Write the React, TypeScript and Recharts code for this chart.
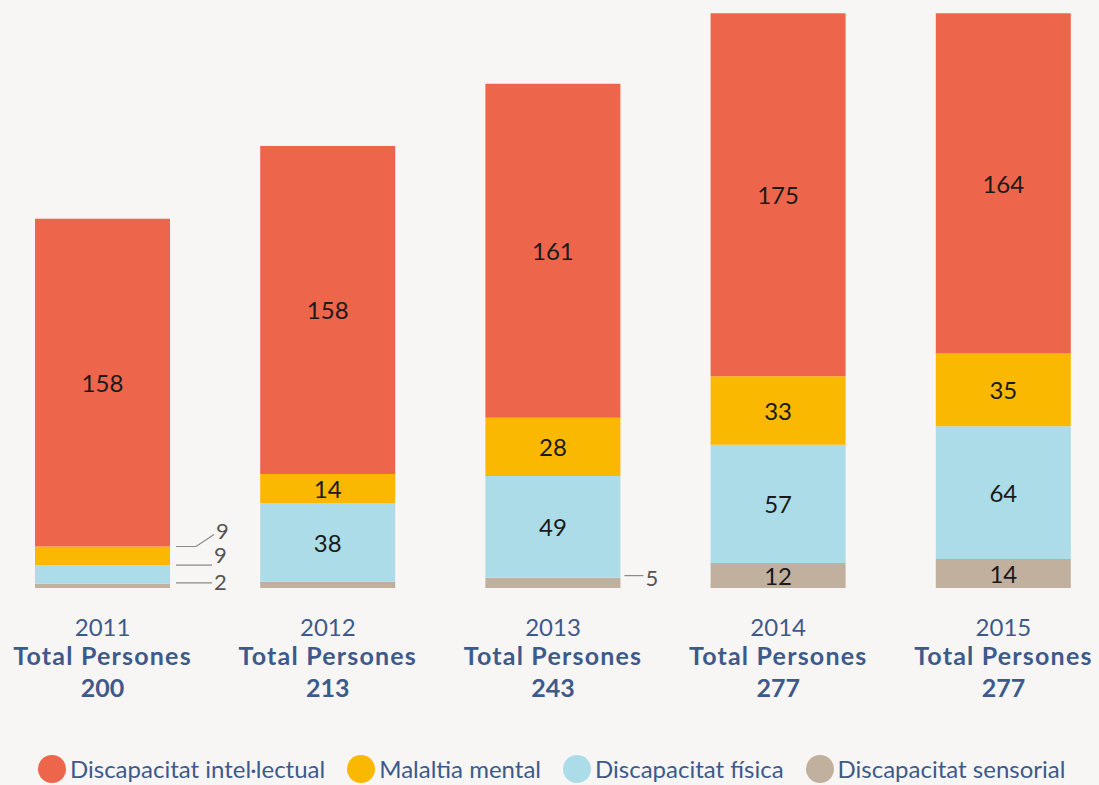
import { Bar, BarChart, LabelList, XAxis, YAxis } from "recharts";

const years = ["2011", "2012", "2013", "2014", "2015"];
const totals = [200, 213, 243, 277, 277];
const intelectual = [158, 158, 161, 175, 164];
const mental = [9, 14, 28, 33, 35];
const fisica = [9, 38, 49, 57, 64];
const sensorial = [2, 3, 5, 12, 14];

const BLUE_TEXT = "#3d5a8c";
const FONT = "Lato, 'Open Sans', sans-serif";

const series = [
  { key: "sensorial", name: "Discapacitat sensorial", color: "#c2b09f" },
  { key: "fisica", name: "Discapacitat física", color: "#acdce8" },
  { key: "mental", name: "Malaltia mental", color: "#fab800" },
  { key: "intelectual", name: "Discapacitat intel·lectual", color: "#ed654b" },
];

const data = years.map((year, i) => ({
  year,
  total: totals[i],
  intelectual: intelectual[i],
  mental: mental[i],
  fisica: fisica[i],
  sensorial: sensorial[i],
}));

// small segments get their number outside the bar with a leader line
type Leader = { gap: number; len: number; lineDy: number; textDy: number; bend?: [number, number] };
const leaders: Record<string, Leader> = {
  "mental-0": { gap: 6, len: 20, lineDy: 0, textDy: -8, bend: [18, -12] },
  "fisica-0": { gap: 6, len: 36, lineDy: 0, textDy: -2 },
  "sensorial-0": { gap: 6, len: 36, lineDy: -1, textDy: 7 },
  "sensorial-2": { gap: 4, len: 19, lineDy: -2, textDy: 10 },
};
const hidden = new Set(["sensorial-1"]);

function segmentLabel(seriesKey: string) {
  return (props: any) => {
    const { x, y, width, height, value, index } = props;
    const id = `${seriesKey}-${index}`;
    if (hidden.has(id)) return null;
    const leader = leaders[id];
    if (leader) {
      const x0 = Number(x) + Number(width) + leader.gap;
      const ly = Number(y) + leader.lineDy;
      const x1 = x0 + leader.len;
      let endX = x1;
      let endY = ly;
      let d = `M${x0},${ly} L${x1},${ly}`;
      if (leader.bend) {
        endX = x1 + leader.bend[0];
        endY = ly + leader.bend[1];
        d += ` L${endX},${endY}`;
      }
      return (
        <g>
          <path d={d} stroke="#8a8a8a" strokeWidth={1.2} fill="none" />
          <text
            x={endX + 2}
            y={ly + leader.textDy}
            fontSize={22}
            fontFamily={FONT}
            fill="#555"
          >
            {value}
          </text>
        </g>
      );
    }
    return (
      <text
        x={Number(x) + Number(width) / 2}
        y={Number(y) + Number(height) / 2}
        textAnchor="middle"
        dominantBaseline="central"
        fontSize={24}
        fontFamily={FONT}
        fill="#1a1a1a"
      >
        {value}
      </text>
    );
  };
}

function YearTick(props: any) {
  const { x, y, payload, index } = props;
  return (
    <g transform={`translate(${x},${y})`} fontFamily={FONT} fill={BLUE_TEXT} textAnchor="middle">
      <text y={48} fontSize={24} fill={BLUE_TEXT} textAnchor="middle">
        {payload.value}
      </text>
      <text
        y={77}
        fontSize={25}
        fontWeight={700}
        letterSpacing={1.2}
        fill={BLUE_TEXT}
        textAnchor="middle"
      >
        Total Persones
      </text>
      <text y={109} fontSize={25} fontWeight={700} fill={BLUE_TEXT} textAnchor="middle">
        {totals[index]}
      </text>
    </g>
  );
}

const legendOrder = [...series].reverse();

export default function App() {
  return (
    <div
      style={{
        position: "absolute",
        left: 0,
        top: 0,
        width: 1099,
        height: 785,
        overflow: "hidden",
        background: "#f8f6f4",
        fontFamily: FONT,
      }}
    >
      <div style={{ position: "absolute", left: -10, top: 0 }}>
        <BarChart
          width={1126}
          height={785}
          data={data}
          margin={{ top: 7, right: 0, left: 0, bottom: 167 }}
        >
          <XAxis
            dataKey="year"
            height={30}
            axisLine={false}
            tickLine={false}
            tickSize={0}
            tickMargin={0}
            interval={0}
            tick={<YearTick />}
          />
          <YAxis hide domain={[0, 280]} />
          {series.map((s) => (
            <Bar
              key={s.key}
              dataKey={s.key}
              name={s.name}
              stackId="a"
              fill={s.color}
              barSize={135}
              isAnimationActive={false}
            >
              <LabelList dataKey={s.key} content={segmentLabel(s.key)} />
            </Bar>
          ))}
        </BarChart>
      </div>
      <div
        style={{
          position: "absolute",
          top: 754,
          left: 38,
          display: "flex",
          alignItems: "center",
          fontSize: 24,
          color: BLUE_TEXT,
          whiteSpace: "nowrap",
        }}
      >
        {legendOrder.map((s) => (
          <span key={s.key} style={{ display: "flex", alignItems: "center", marginRight: 22 }}>
            <span
              style={{
                width: 28,
                height: 28,
                borderRadius: "50%",
                background: s.color,
                display: "inline-block",
                marginRight: 4,
              }}
            />
            {s.name}
          </span>
        ))}
      </div>
    </div>
  );
}
